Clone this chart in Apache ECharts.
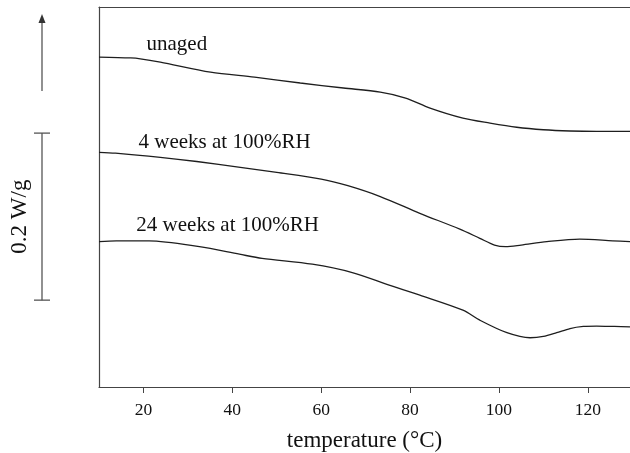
<!DOCTYPE html>
<html>
<head>
<meta charset="utf-8">
<script src="https://cdn.jsdelivr.net/npm/echarts@6/dist/echarts.min.js"></script>
<style>
html, body { margin: 0; padding: 0; background: #fff; }
#main { width: 630px; height: 453px; }
</style>
</head>
<body>
<div id="main"></div>
<script>
// heat flow curves, temperature in degC, heat flow in W/g (offset per curve)
var unagedT = [10, 17.1, 19.3, 23.8, 35.1, 45, 55.3, 65, 73.3, 79, 84.5, 91.9, 98.0, 104, 110, 116, 122, 129.5];
var unagedQ = [0.395, 0.394, 0.393, 0.389, 0.377, 0.371, 0.364, 0.358, 0.353, 0.346, 0.334, 0.322, 0.316, 0.311, 0.308, 0.3065, 0.306, 0.306];

var week4T = [10, 13.7, 23.8, 32, 41.8, 50, 60, 66, 73.3, 82.2, 91.2, 95.7, 99, 101.5, 105, 110.8, 118.2, 125.6, 129.5];
var week4Q = [0.281, 0.280, 0.275, 0.270, 0.263, 0.257, 0.249, 0.241, 0.228, 0.208, 0.189, 0.178, 0.170, 0.168, 0.170, 0.174, 0.177, 0.175, 0.174];

var week24T = [10, 13.9, 21.3, 32.6, 41.6, 46.7, 58.0, 67.0, 75.3, 82.2, 91.9, 95.7, 101.8, 107.0, 110, 113, 116, 119, 122, 126, 129.5];
var week24Q = [0.174, 0.175, 0.175, 0.168, 0.159, 0.154, 0.147, 0.137, 0.122, 0.110, 0.092, 0.080, 0.065, 0.059, 0.0605, 0.065, 0.070, 0.0725, 0.073, 0.0725, 0.072];

var xTicks = [20, 40, 60, 80, 100, 120];
var curveNames = ['unaged', '4 weeks at 100%RH', '24 weeks at 100%RH'];
var scaleBar = [0.104, 0.304]; // 0.2 W/g

var serif = '"Liberation Serif", "Times New Roman", serif';
var lineColor = '#1e1e1e';
var axisColor = '#444';

function pairs(t, q) {
    return t.map(function (v, i) { return [v, q[i]]; });
}

function curve(name, t, q) {
    return {
        name: name,
        type: 'line',
        data: pairs(t, q),
        smooth: 0.3,
        showSymbol: false,
        symbol: 'none',
        silent: true,
        lineStyle: { color: lineColor, width: 1.3 }
    };
}

var chart = echarts.init(document.getElementById('main'));

var option = {
    animation: false,
    grid: { left: 99, top: 7, right: 0, bottom: 66, containLabel: false, outerBoundsMode: 'none' },
    xAxis: [{
        type: 'value',
        min: 10,
        max: 129.5,
        name: 'temperature (\u00B0C)',
        nameLocation: 'middle',
        nameGap: 42,
        nameTextStyle: { fontFamily: serif, fontSize: 23, color: '#111' },
        axisLine: { lineStyle: { color: axisColor, width: 1.2 } },
        axisTick: { length: 6, inside: false, customValues: xTicks, lineStyle: { color: axisColor } },
        axisLabel: { customValues: xTicks, margin: 14, fontFamily: serif, fontSize: 17.5, color: '#111' },
        splitLine: { show: false }
    }, {
        type: 'value',
        position: 'top',
        min: 10,
        max: 129.5,
        axisLine: { show: true, onZero: false, lineStyle: { color: axisColor, width: 1.2 } },
        axisTick: { show: false },
        axisLabel: { show: false },
        splitLine: { show: false }
    }],
    yAxis: {
        type: 'value',
        min: 0,
        max: 0.455,
        axisLine: { show: true, onZero: false, lineStyle: { color: axisColor, width: 1.2 } },
        axisTick: { show: false },
        axisLabel: { show: false },
        splitLine: { show: false }
    },
    series: [
        curve(curveNames[0], unagedT, unagedQ),
        curve(curveNames[1], week4T, week4Q),
        curve(curveNames[2], week24T, week24Q)
    ]
};

chart.setOption(option);

// labels placed in data coordinates
var labelPos = [[20.7, 0.410], [18.9, 0.293], [18.4, 0.193]];
var g = [];
labelPos.forEach(function (p, i) {
    var px = chart.convertToPixel({ xAxisIndex: 0, yAxisIndex: 0 }, p);
    g.push({
        type: 'text', x: px[0], y: px[1], silent: true,
        style: { text: curveNames[i], fontFamily: serif, fontSize: 21, fill: '#111', align: 'left', verticalAlign: 'middle' }
    });
});

// 0.2 W/g scale bar and direction arrow at left
var barX = 42;
var y0 = chart.convertToPixel({ yAxisIndex: 0 }, scaleBar[0]);
var y1 = chart.convertToPixel({ yAxisIndex: 0 }, scaleBar[1]);
var gray = '#555';
g.push({ type: 'line', shape: { x1: barX, y1: y0, x2: barX, y2: y1 }, style: { stroke: gray, lineWidth: 1.3 } });
g.push({ type: 'line', shape: { x1: barX - 8, y1: y0, x2: barX + 8, y2: y0 }, style: { stroke: gray, lineWidth: 1.3 } });
g.push({ type: 'line', shape: { x1: barX - 8, y1: y1, x2: barX + 8, y2: y1 }, style: { stroke: gray, lineWidth: 1.3 } });
g.push({
    type: 'text', x: 20, y: (y0 + y1) / 2, rotation: Math.PI / 2,
    style: { text: '0.2 W/g', fontFamily: serif, fontSize: 23, fill: '#111', align: 'center', verticalAlign: 'middle' }
});
g.push({ type: 'line', shape: { x1: barX, y1: 91, x2: barX, y2: 20 }, style: { stroke: gray, lineWidth: 1.3 } });
g.push({ type: 'polygon', shape: { points: [[barX, 14], [barX - 3.5, 23], [barX + 3.5, 23]] }, style: { fill: '#333' } });

chart.setOption({ graphic: g });
</script>
</body>
</html>
